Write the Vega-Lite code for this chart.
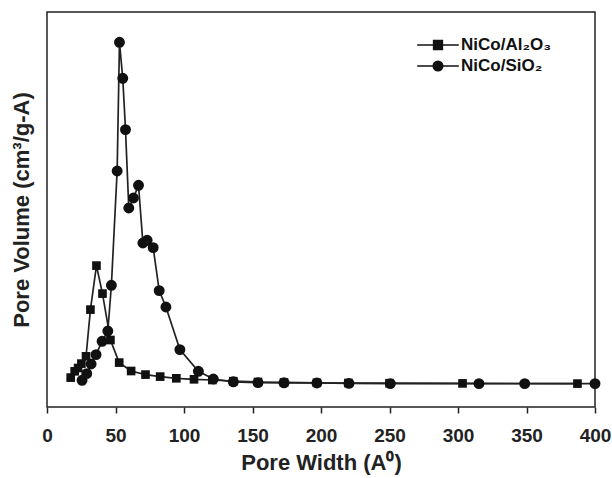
{
  "$schema": "https://vega.github.io/schema/vega-lite/v6.json",
  "width": 548,
  "height": 395,
  "autosize": "none",
  "padding": {"left": 47, "top": 12, "right": 17, "bottom": 71},
  "background": "white",
  "config": {
    "font": "Liberation Sans",
    "view": {"stroke": "#222", "strokeWidth": 1.5}
  },
  "data": {
    "values": [
      {"series": "NiCo/Al₂O₃", "width": 17.3, "volume": 0.00294},
      {"series": "NiCo/Al₂O₃", "width": 20.2, "volume": 0.00357},
      {"series": "NiCo/Al₂O₃", "width": 22.7, "volume": 0.00390},
      {"series": "NiCo/Al₂O₃", "width": 25.1, "volume": 0.00434},
      {"series": "NiCo/Al₂O₃", "width": 28.5, "volume": 0.00507},
      {"series": "NiCo/Al₂O₃", "width": 31.7, "volume": 0.00974},
      {"series": "NiCo/Al₂O₃", "width": 36.1, "volume": 0.01414},
      {"series": "NiCo/Al₂O₃", "width": 40.5, "volume": 0.01134},
      {"series": "NiCo/Al₂O₃", "width": 46.3, "volume": 0.00670},
      {"series": "NiCo/Al₂O₃", "width": 52.7, "volume": 0.00444},
      {"series": "NiCo/Al₂O₃", "width": 61.4, "volume": 0.00360},
      {"series": "NiCo/Al₂O₃", "width": 71.9, "volume": 0.00324},
      {"series": "NiCo/Al₂O₃", "width": 82.6, "volume": 0.00304},
      {"series": "NiCo/Al₂O₃", "width": 94.4, "volume": 0.00287},
      {"series": "NiCo/Al₂O₃", "width": 107.3, "volume": 0.00277},
      {"series": "NiCo/Al₂O₃", "width": 120.7, "volume": 0.00270},
      {"series": "NiCo/Al₂O₃", "width": 136.0, "volume": 0.00258},
      {"series": "NiCo/Al₂O₃", "width": 154.0, "volume": 0.00250},
      {"series": "NiCo/Al₂O₃", "width": 173.0, "volume": 0.00246},
      {"series": "NiCo/Al₂O₃", "width": 197.0, "volume": 0.00242},
      {"series": "NiCo/Al₂O₃", "width": 220.0, "volume": 0.00240},
      {"series": "NiCo/Al₂O₃", "width": 250.0, "volume": 0.00238},
      {"series": "NiCo/Al₂O₃", "width": 303.3, "volume": 0.00236},
      {"series": "NiCo/Al₂O₃", "width": 387.2, "volume": 0.00234},
      {"series": "NiCo/SiO₂", "width": 25.6, "volume": 0.00267},
      {"series": "NiCo/SiO₂", "width": 29.0, "volume": 0.00334},
      {"series": "NiCo/SiO₂", "width": 32.2, "volume": 0.00430},
      {"series": "NiCo/SiO₂", "width": 35.8, "volume": 0.00524},
      {"series": "NiCo/SiO₂", "width": 40.2, "volume": 0.00657},
      {"series": "NiCo/SiO₂", "width": 44.4, "volume": 0.00760},
      {"series": "NiCo/SiO₂", "width": 47.0, "volume": 0.01217},
      {"series": "NiCo/SiO₂", "width": 51.2, "volume": 0.02360},
      {"series": "NiCo/SiO₂", "width": 52.9, "volume": 0.03647},
      {"series": "NiCo/SiO₂", "width": 55.3, "volume": 0.03287},
      {"series": "NiCo/SiO₂", "width": 57.3, "volume": 0.02774},
      {"series": "NiCo/SiO₂", "width": 59.7, "volume": 0.01990},
      {"series": "NiCo/SiO₂", "width": 63.1, "volume": 0.02090},
      {"series": "NiCo/SiO₂", "width": 66.8, "volume": 0.02217},
      {"series": "NiCo/SiO₂", "width": 70.0, "volume": 0.01640},
      {"series": "NiCo/SiO₂", "width": 73.1, "volume": 0.01667},
      {"series": "NiCo/SiO₂", "width": 77.5, "volume": 0.01594},
      {"series": "NiCo/SiO₂", "width": 81.9, "volume": 0.01164},
      {"series": "NiCo/SiO₂", "width": 86.8, "volume": 0.01000},
      {"series": "NiCo/SiO₂", "width": 97.0, "volume": 0.00574},
      {"series": "NiCo/SiO₂", "width": 110.5, "volume": 0.00357},
      {"series": "NiCo/SiO₂", "width": 121.4, "volume": 0.00280},
      {"series": "NiCo/SiO₂", "width": 136.0, "volume": 0.00252},
      {"series": "NiCo/SiO₂", "width": 154.0, "volume": 0.00244},
      {"series": "NiCo/SiO₂", "width": 173.0, "volume": 0.00242},
      {"series": "NiCo/SiO₂", "width": 197.0, "volume": 0.00240},
      {"series": "NiCo/SiO₂", "width": 220.4, "volume": 0.00236},
      {"series": "NiCo/SiO₂", "width": 250.6, "volume": 0.00234},
      {"series": "NiCo/SiO₂", "width": 315.3, "volume": 0.00234},
      {"series": "NiCo/SiO₂", "width": 348.7, "volume": 0.00234},
      {"series": "NiCo/SiO₂", "width": 400.0, "volume": 0.00234}
    ]
  },
  "encoding": {
    "x": {
      "field": "width", "type": "quantitative",
      "scale": {"domain": [0, 400], "nice": false, "zero": false},
      "axis": {
        "title": "Pore Width (A⁰)",
        "values": [0, 50, 100, 150, 200, 250, 300, 350, 400],
        "grid": false, "domain": false,
        "tickColor": "#222", "tickSize": 6, "tickWidth": 1.5,
        "labelFont": "Liberation Sans", "labelFontSize": 19, "labelFontWeight": "bold", "labelColor": "#222",
        "labelPadding": 13, "labelFlush": false, "labelOverlap": false,
        "titleFont": "Liberation Sans", "titleFontSize": 22, "titleFontWeight": "bold", "titleColor": "#222",
        "titlePadding": 7
      }
    },
    "y": {
      "field": "volume", "type": "quantitative",
      "scale": {"domain": [0, 0.0395], "nice": false, "zero": false},
      "axis": {
        "title": "Pore Volume (cm³/g-A)",
        "grid": false, "domain": false, "ticks": false, "labels": false,
        "titleFont": "Liberation Sans", "titleFontSize": 22, "titleFontWeight": "bold", "titleColor": "#222",
        "titlePadding": 14
      }
    }
  },
  "layer": [
    {
      "mark": {"type": "line", "color": "#222", "strokeWidth": 1.7},
      "encoding": {"detail": {"field": "series"}, "order": {"field": "width"}}
    },
    {
      "transform": [{"filter": "datum.series === 'NiCo/Al₂O₃'"}],
      "mark": {"type": "point", "shape": "square", "filled": true, "opacity": 1, "size": 75},
      "encoding": {
        "fill": {
          "field": "series", "type": "nominal",
          "scale": {"range": ["#111"]},
          "legend": {
            "title": null,
            "orient": "none",
            "legendX": 382,
            "legendY": 24,
            "padding": 0,
            "symbolSize": 256,
            "symbolType": "M-2.6,0H2.6M-0.55,-0.55H0.55V0.55H-0.55Z",
            "symbolFillColor": "#111",
            "symbolStrokeColor": "#111",
            "symbolStrokeWidth": 1.5,
            "symbolOpacity": 1,
            "labelFont": "Liberation Sans",
            "labelFontSize": 17,
            "labelFontWeight": "bold",
            "labelColor": "#111",
            "labelOffset": 14
          }
        }
      }
    },
    {
      "transform": [{"filter": "datum.series === 'NiCo/SiO₂'"}],
      "mark": {"type": "point", "shape": "circle", "filled": true, "fill": "#111", "opacity": 1, "size": 80},
      "encoding": {
        "stroke": {
          "field": "series", "type": "nominal",
          "scale": {"range": ["#111"]},
          "legend": {
            "title": null,
            "orient": "none",
            "legendX": 382,
            "legendY": 45,
            "padding": 0,
            "symbolSize": 256,
            "symbolType": "M-2.6,0H2.6M0.6,0A0.6,0.6,0,1,1,-0.6,0A0.6,0.6,0,1,1,0.6,0Z",
            "symbolFillColor": "#111",
            "symbolStrokeColor": "#111",
            "symbolStrokeWidth": 1.5,
            "symbolOpacity": 1,
            "labelFont": "Liberation Sans",
            "labelFontSize": 17,
            "labelFontWeight": "bold",
            "labelColor": "#111",
            "labelOffset": 14
          }
        }
      }
    }
  ]
}
